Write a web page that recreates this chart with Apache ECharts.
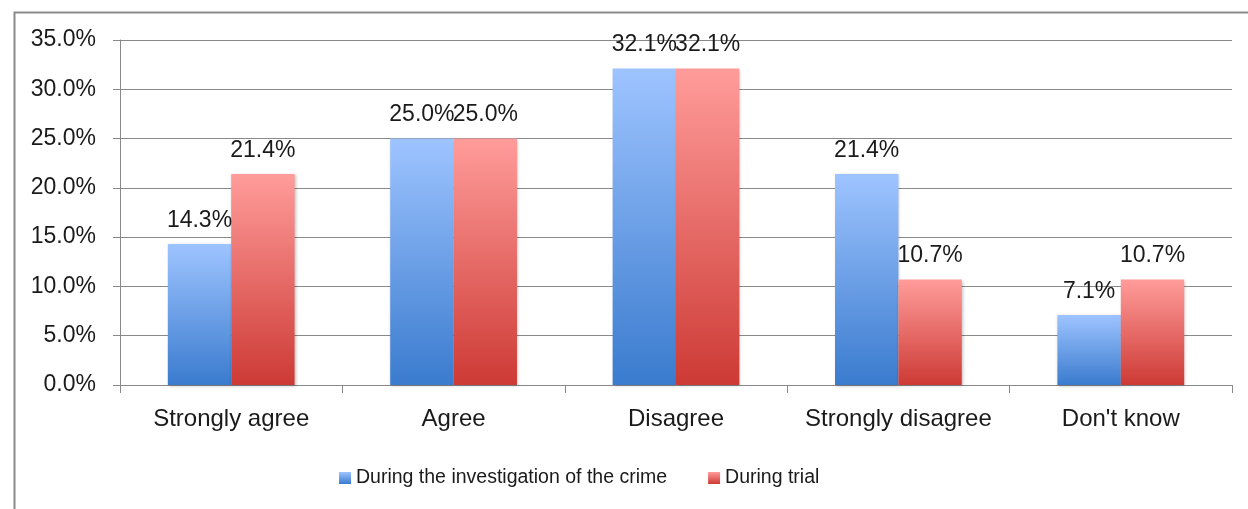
<!DOCTYPE html>
<html>
<head>
<meta charset="utf-8">
<script src="https://cdn.jsdelivr.net/npm/echarts@6/dist/echarts.min.js"></script>
<style>
html,body{margin:0;padding:0;background:#fff;}
#c{width:1248px;height:509px;}
</style>
</head>
<body>
<div id="c"></div>
<script>
const categories = ["Strongly agree", "Agree", "Disagree", "Strongly disagree", "Don't know"];
const seriesNames = ["During the investigation of the crime", "During trial"];
const investigation = [14.3, 25.0, 32.1, 21.4, 7.1];
const trial = [21.4, 25.0, 32.1, 10.7, 10.7];
const yTicks = { min: 0, max: 35, interval: 5 };

const FONT = "'Liberation Sans', Arial, sans-serif";
function grad(top, bottom) {
  return new echarts.graphic.LinearGradient(0, 0, 0, 1, [
    { offset: 0, color: top },
    { offset: 1, color: bottom }
  ]);
}
const chart = echarts.init(document.getElementById('c'), null, { renderer: 'canvas' });
const labelCfg = {
  show: true, position: 'top', distance: 12,
  fontFamily: FONT, fontSize: 23, color: '#1a1a1a',
  formatter: p => p.value.toFixed(1) + '%'
};
const barShadow = { shadowBlur: 3, shadowColor: 'rgba(0,0,0,0.25)', shadowOffsetX: 1, shadowOffsetY: 1 };
chart.setOption({
  animation: false,
  graphic: [{
    type: 'rect', left: 12, top: 10,
    shape: { x: 0, y: 0, width: 1260, height: 600 },
    style: { fill: 'none', stroke: '#8a8a8a', lineWidth: 2 },
    z: -1
  }],
  grid: { left: 120, right: 16, top: 40, bottom: 124, containLabel: false },
  legend: {
    left: 334, top: 463,
    itemWidth: 12, itemHeight: 12, itemGap: 41,
    icon: 'rect',
    textStyle: { fontFamily: FONT, fontSize: 19.5, color: '#1a1a1a' },
    data: seriesNames
  },
  xAxis: {
    type: 'category', data: categories,
    axisLine: { lineStyle: { color: '#898989', width: 1 } },
    axisTick: { show: true, length: 8, lineStyle: { color: '#898989' } },
    axisLabel: { margin: 22, fontFamily: FONT, fontSize: 24, color: '#1a1a1a', interval: 0 }
  },
  yAxis: {
    type: 'value', min: yTicks.min, max: yTicks.max, interval: yTicks.interval,
    axisLine: { show: true, lineStyle: { color: '#898989', width: 1 } },
    axisTick: { show: true, length: 7, lineStyle: { color: '#898989' } },
    splitLine: { lineStyle: { color: '#898989', width: 1 } },
    axisLabel: { margin: 24, fontFamily: FONT, fontSize: 23, color: '#1a1a1a',
      formatter: v => v.toFixed(1) + '%' }
  },
  series: [
    {
      name: seriesNames[0], type: 'bar', data: investigation,
      barGap: '0%', barCategoryGap: '43%',
      itemStyle: Object.assign({ color: grad('#9ec4ff', '#3a7bce') }, barShadow),
      label: labelCfg
    },
    {
      name: seriesNames[1], type: 'bar', data: trial,
      barGap: '0%', barCategoryGap: '43%',
      itemStyle: Object.assign({ color: grad('#ff9c9a', '#cd3a35') }, barShadow),
      label: labelCfg
    }
  ]
});
</script>
</body>
</html>
